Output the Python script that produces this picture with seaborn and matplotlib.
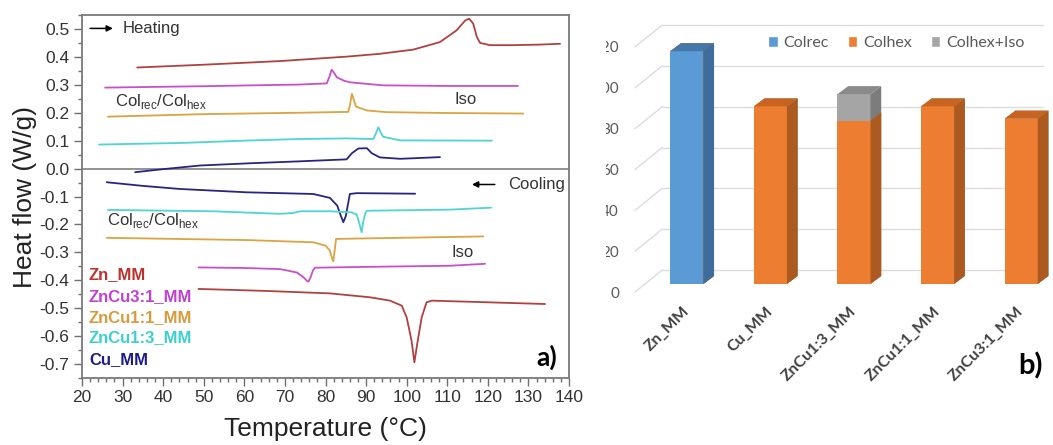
import matplotlib.pyplot as plt
import matplotlib.patches as mpatches
from matplotlib.transforms import ScaledTranslation, Bbox, TransformedBbox
from matplotlib.ticker import MultipleLocator, FormatStrFormatter
import seaborn as sb

# ---- panel a: DSC traces (T in degC, heat flow in W/g)
zn_heat_t = [33.6, 50, 68.8, 85.3, 93.4, 101.6, 108.2, 112.3, 114.4, 115.4, 116.4, 117.3, 118.1, 120.5, 126.3, 132.9, 137.8]
zn_heat_h = [0.362, 0.372, 0.385, 0.401, 0.411, 0.426, 0.453, 0.495, 0.530, 0.537, 0.519, 0.471, 0.450, 0.442, 0.442, 0.444, 0.447]
zn31_heat_t = [25.7, 50, 73.7, 80.3, 81.0, 81.5, 82.0, 82.8, 84.5, 86.0, 94.2, 110, 127.4]
zn31_heat_h = [0.290, 0.295, 0.301, 0.305, 0.330, 0.354, 0.345, 0.327, 0.315, 0.309, 0.298, 0.296, 0.296]
zn11_heat_t = [26.4, 50, 73.7, 85.6, 86.0, 86.5, 87.0, 87.5, 90.2, 95.1, 110, 128.7]
zn11_heat_h = [0.186, 0.195, 0.200, 0.203, 0.225, 0.268, 0.245, 0.222, 0.208, 0.202, 0.199, 0.197]
zn13_heat_t = [24.2, 45, 60, 73.7, 85, 91.8, 92.5, 93.0, 93.6, 94.2, 98.4, 121]
zn13_heat_h = [0.086, 0.092, 0.100, 0.106, 0.108, 0.106, 0.128, 0.148, 0.130, 0.114, 0.101, 0.100]
cu_heat_t = [33.1, 40, 49.1, 61.4, 73.7, 85.2, 86.5, 88.1, 90.2, 91.4, 93.4, 98.4, 108.2]
cu_heat_h = [-0.013, -0.002, 0.011, 0.019, 0.026, 0.033, 0.055, 0.072, 0.073, 0.055, 0.040, 0.035, 0.041]

cu_cool_t = [26.1, 35, 44.1, 60.6, 77.0, 81.1, 82.9, 83.8, 84.4, 85.0, 85.4, 86.0, 87.7, 102.1]
cu_cool_h = [-0.049, -0.062, -0.073, -0.085, -0.091, -0.105, -0.133, -0.170, -0.192, -0.170, -0.139, -0.091, -0.088, -0.090]
zn13_cool_t = [26.4, 52.4, 68.8, 72.1, 73.7, 81.1, 86.5, 87.7, 88.4, 88.9, 89.3, 89.8, 90.2, 110.7, 120.8]
zn13_cool_h = [-0.148, -0.153, -0.162, -0.159, -0.153, -0.153, -0.157, -0.165, -0.200, -0.228, -0.190, -0.160, -0.151, -0.147, -0.140]
zn11_cool_t = [26.1, 60.6, 77.0, 80.0, 81.0, 81.6, 81.9, 82.2, 82.6, 86.0, 118.9]
zn11_cool_h = [-0.248, -0.256, -0.264, -0.276, -0.292, -0.320, -0.332, -0.300, -0.252, -0.251, -0.243]
zn31_cool_t = [48.7, 60, 68.8, 72.9, 74.5, 75.4, 75.8, 76.3, 76.9, 77.4, 90, 110.7, 119.3]
zn31_cool_h = [-0.354, -0.356, -0.360, -0.372, -0.388, -0.402, -0.405, -0.390, -0.365, -0.355, -0.352, -0.348, -0.341]
zn_cool_t = [48.7, 65, 81.1, 91.0, 95.9, 98.8, 100.0, 101.2, 101.9, 102.6, 103.7, 104.9, 106.2, 115.6, 134.1]
zn_cool_h = [-0.431, -0.438, -0.447, -0.461, -0.473, -0.491, -0.533, -0.616, -0.694, -0.628, -0.533, -0.479, -0.473, -0.477, -0.485]

a_names = ["Zn_MM", "ZnCu3:1_MM", "ZnCu1:1_MM", "ZnCu1:3_MM", "Cu_MM"]
a_xticks = [20, 30, 40, 50, 60, 70, 80, 90, 100, 110, 120, 130, 140]
a_yticks = [-0.7, -0.6, -0.5, -0.4, -0.3, -0.2, -0.1, 0.0, 0.1, 0.2, 0.3, 0.4, 0.5]

# ---- panel b: stacked 3D columns
samples = ["Zn_MM", "Cu_MM", "ZnCu1:3_MM", "ZnCu1:1_MM", "ZnCu3:1_MM"]
colrec = [114, 0, 0, 0, 0]
colhex = [0, 87, 80, 87, 81]
colhex_iso = [0, 0, 13, 0, 0]
b_yticks = [0, 20, 40, 60, 80, 100, 120]

line_colors = ['#b0413e', '#c94fc9', '#d9a441', '#4fd3d3', '#262680']
name_colors = ['#c0302a', '#c040d0', '#d99a3a', '#3ad0d0', '#1c1c8c']

sb.set_style('white')
plt.rcParams['font.family'] = ['Liberation Sans', 'DejaVu Sans']
plt.rcParams['axes.unicode_minus'] = False
plt.rcParams['mathtext.fontset'] = 'custom'
plt.rcParams['mathtext.rm'] = 'Liberation Sans'

W, H = 1053, 445
fig = plt.figure(figsize=(W / 100, H / 100), dpi=100)


def px_box(x0, y0, x1, y1):
    return [x0 / W, 1 - y1 / H, (x1 - x0) / W, (y1 - y0) / H]


def px_shift(dx, dy):
    return ScaledTranslation(dx / 100, dy / 100, fig.dpi_scale_trans)


# ================= panel a =================
axa = fig.add_axes(px_box(82, 15, 569, 378))
curves = [
    (zn_heat_t, zn_heat_h, 0), (zn31_heat_t, zn31_heat_h, 1), (zn11_heat_t, zn11_heat_h, 2),
    (zn13_heat_t, zn13_heat_h, 3), (cu_heat_t, cu_heat_h, 4),
    (cu_cool_t, cu_cool_h, 4), (zn13_cool_t, zn13_cool_h, 3), (zn11_cool_t, zn11_cool_h, 2),
    (zn31_cool_t, zn31_cool_h, 1), (zn_cool_t, zn_cool_h, 0),
]
for t, h, k in curves:
    sb.lineplot(x=t, y=h, sort=False, estimator=None, color=line_colors[k], lw=1.3, ax=axa)

axa.axhline(0, color='#8a8a8a', lw=1.3, zorder=1)
axa.set_xlim(20, 140)
axa.set_ylim(-0.75, 0.55)
axa.set_xticks(a_xticks)
axa.set_yticks(a_yticks)
axa.yaxis.set_major_formatter(FormatStrFormatter('%.1f'))
axa.xaxis.set_minor_locator(MultipleLocator(2))
axa.yaxis.set_minor_locator(MultipleLocator(0.05))
axa.tick_params(which='both', direction='out', color='#6f6f6f', width=1)
axa.tick_params(which='major', length=6, labelsize=12.5, labelcolor='#333333', pad=3)
axa.tick_params(which='minor', length=3)
axa.tick_params(left=True, bottom=True, which='both')
for s in axa.spines.values():
    s.set_color('#7a7a7a')
    s.set_linewidth(1.3)
axa.set_xlabel('Temperature (°C)', fontsize=19, color='#222222', labelpad=8)
axa.set_ylabel('Heat flow (W/g)', fontsize=19, color='#222222', labelpad=2)

arrow = dict(arrowstyle='-|>', color='black', lw=1.1, mutation_scale=9)
axa.annotate('', xy=(28.3, 0.502), xytext=(21.3, 0.502), arrowprops=arrow)
axa.text(29.9, 0.502, 'Heating', fontsize=12, color='#333333', va='center')
axa.annotate('', xy=(115.4, -0.057), xytext=(122.4, -0.057), arrowprops=arrow)
axa.text(125.0, -0.057, 'Cooling', fontsize=12, color='#333333', va='center')

col_label = r'Col$_{\mathregular{rec}}$/Col$_{\mathregular{hex}}$'
axa.text(28.1, 0.242, col_label, fontsize=12, color='#333333', va='center')
axa.text(26.1, -0.185, col_label, fontsize=12, color='#333333', va='center')
axa.text(114.6, 0.247, 'Iso', fontsize=12, color='#333333', ha='center', va='center')
axa.text(113.9, -0.300, 'Iso', fontsize=12, color='#333333', ha='center', va='center')

for name, c, yv in zip(a_names, name_colors, [-0.380, -0.458, -0.533, -0.606, -0.683]):
    axa.text(21.7, yv, name, fontsize=12, fontweight='bold', color=c, va='center')

axa.text(0.955, 0.058, 'a)', transform=axa.transAxes, fontsize=19, fontweight='bold',
         family='Lato', ha='center', va='center', color='black')

# ================= panel b =================
axb = fig.add_axes(px_box(635, 47, 1053, 292))
axb.set_facecolor('none')
axb.set_xlim(-0.483, 4.378)
axb.set_ylim(0, 120)
ux = (4.378 + 0.483) / (1053 - 635)  # data units per pixel
uy = 120 / (292 - 47)

grey = ('#a5a5a5', '#7c7c7c', '#8a8a8a')
orange = ('#ed7d31', '#ad5a20', '#c7641f')
blue = ('#5b9bd5', '#3e6d9c', '#4577a8')

total = [a + b + c for a, b, c in zip(colrec, colhex, colhex_iso)]
lower = [a + b for a, b in zip(colrec, colhex)]
bar_off = axb.transData + px_shift(10, 8)
dx, dy = 11 * ux, 8 * uy

for vals, (front, side, top) in [(total, grey), (lower, orange), (colrec, blue)]:
    n0 = len(axb.patches)
    sb.barplot(x=samples, y=vals, color=front, saturation=1, width=34 * ux,
               errorbar=None, linewidth=0, ax=axb)
    for p in list(axb.patches[n0:]):
        p.set_transform(bar_off)
        p.set_clip_on(False)
        h = p.get_height()
        if h <= 0:
            continue
        i = int(round(p.get_x() + p.get_width() / 2))
        x0, x1 = p.get_x(), p.get_x() + p.get_width()
        axb.add_patch(mpatches.Polygon([(x1, 0), (x1 + dx, dy), (x1 + dx, h + dy), (x1, h)],
                                       closed=True, facecolor=side, lw=0,
                                       transform=bar_off, clip_on=False))
        if h >= total[i]:
            axb.add_patch(mpatches.Polygon([(x0, h), (x0 + dx, h + dy), (x1 + dx, h + dy), (x1, h)],
                                           closed=True, facecolor=top, lw=0,
                                           transform=bar_off, clip_on=False))

# back wall grid and the floor diagonals
gx, gy = 28 * ux, 22 * uy
x_left = axb.get_xlim()[0]
for v in b_yticks:
    axb.plot([x_left + gx, 4.378], [v + gy, v + gy], color='#dcdcdc', lw=1, zorder=0.5, clip_on=False)
    axb.plot([x_left, x_left + gx], [v, v + gy], color='#dcdcdc', lw=1, zorder=0.5, clip_on=False)

sb.despine(ax=axb, left=True, bottom=True)
axb.set_yticks(b_yticks)
axb.set_yticklabels([str(v) for v in b_yticks])
axb.tick_params(axis='y', length=0, pad=11.5, labelsize=11, labelcolor='#595959')
axb.set_xticks(range(len(samples)))
axb.set_xticklabels(samples)
axb.tick_params(axis='x', length=0, pad=12, labelsize=11.5, labelcolor='#404040')
for lbl in axb.get_yticklabels():
    lbl.set_family('Lato')
    lbl.set_clip_on(True)
    lbl.set_clip_box(TransformedBbox(Bbox.from_extents(606 / W, 0, 1, 1), fig.transFigure))
for lbl in axb.get_xticklabels():
    lbl.set_family('Lato')
    lbl.set_fontweight('bold')
    lbl.set_rotation(45)
    lbl.set_rotation_mode('anchor')
    lbl.set_ha('right')
    lbl.set_va('center')
    lbl.set_transform(lbl.get_transform() + px_shift(10, 0))
axb.set_xlabel('')
axb.set_ylabel('')

handles = [mpatches.Patch(facecolor=blue[0], label='Colrec'),
           mpatches.Patch(facecolor=orange[0], label='Colhex'),
           mpatches.Patch(facecolor=grey[0], label='Colhex+Iso')]
fig.legend(handles=handles, loc='center', bbox_to_anchor=(0.851, 0.903), ncol=3, frameon=False,
           prop={'family': 'Lato', 'size': 11.5}, labelcolor='#595959', handlelength=0.6,
           handleheight=0.6, handletextpad=0.35, columnspacing=1.2)

fig.text(0.979, 0.178, 'b)', fontsize=21, fontweight='bold', family='Lato',
         ha='center', va='center', color='black')

fig.savefig('out.png', dpi=100)
